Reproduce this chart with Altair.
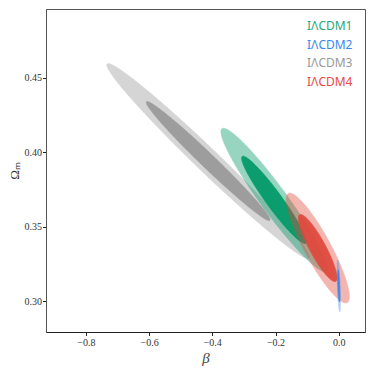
import altair as alt
import numpy as np
import pandas as pd

# ---- values ----
models = ["IΛCDM1", "IΛCDM2", "IΛCDM3", "IΛCDM4"]
colors = ["#009966", "#3a86f0", "#999999", "#e0483c"]
label_colors = ["#2ba57a", "#3a86f0", "#999999", "#e8493f"]
# Gaussian approximation of each posterior (beta, Omega_m)
mean_beta = [-0.205, 0.0, -0.413, -0.0665]
mean_om = [0.368, 0.3103, 0.394, 0.3357]
sigma_beta = [0.0674, 0.0021, 0.129, 0.0402]
sigma_om = [0.0193, 0.00698, 0.0263, 0.0148]
rho = [-0.953, -0.6, -0.9864, -0.885]
levels = ["2σ", "1σ"]
delta_chi2 = [6.18, 2.30]
draw_order = ["IΛCDM3", "IΛCDM1", "IΛCDM4", "IΛCDM2"]

x_ticks = [-0.8, -0.6, -0.4, -0.2, 0.0]
y_ticks = [0.30, 0.35, 0.40, 0.45]
x_domain = [-0.926, 0.083]
y_domain = [0.2794, 0.496]

# ---- contour outlines from the Gaussian parameters ----
rows = []
t = np.linspace(0, np.pi, 181)
for m in draw_order:
    i = models.index(m)
    mb, mo, sb, so, r = mean_beta[i], mean_om[i], sigma_beta[i], sigma_om[i], rho[i]
    for lev, k in zip(levels, delta_chi2):
        u = np.sqrt(k) * np.cos(t)
        s = np.sqrt(np.clip(k - u ** 2, 0, None))
        b = mb + sb * u
        mid = mo + r * so * u
        half = so * np.sqrt(1 - r ** 2) * s
        for bb, lo, hi in zip(b, mid - half, mid + half):
            rows.append({"model": m, "level": lev, "beta": bb, "lo": lo, "hi": hi})
df = pd.DataFrame(rows)

serif = "Liberation Serif"
label_expr = " : ".join(
    f"datum.value == '{m}' ? '{c}'" for m, c in zip(models[:-1], label_colors[:-1])
) + f" : '{label_colors[-1]}'"

layers = []
for m in draw_order:
    for lev in levels:
        sub = df[(df.model == m) & (df.level == lev)]
        layers.append(
            alt.Chart(sub).mark_area(strokeWidth=0.8, interpolate="linear").encode(
                x=alt.X("beta:Q", scale=alt.Scale(domain=x_domain, nice=False, zero=False),
                        axis=alt.Axis(values=x_ticks, format=".1f", title="β", grid=False,
                                      labelFont=serif, labelFontSize=10, labelColor="#333",
                                      titleFont=serif, titleFontSize=15, titleFontStyle="italic",
                                      titleFontWeight="normal", titleColor="#444", titlePadding=3,
                                      tickSize=3.5, tickColor="#222", labelPadding=2,
                                      domainColor="#222")),
                y=alt.Y("lo:Q", stack=None, scale=alt.Scale(domain=y_domain, nice=False, zero=False),
                        axis=alt.Axis(values=y_ticks, format=".2f", title="Ωₘ", grid=False,
                                      labelFont=serif, labelFontSize=10, labelColor="#333",
                                      titleFont=serif, titleFontSize=13, titleFontWeight="normal",
                                      titleColor="#333", titlePadding=3,
                                      tickSize=3.5, tickColor="#222", labelPadding=1,
                                      domainColor="#555")),
                y2="hi:Q",
                color=alt.Color("model:N", scale=alt.Scale(domain=models, range=colors),
                                legend=alt.Legend(orient="none", legendX=249, legendY=11, title=None,
                                                  symbolSize=0, symbolOpacity=0, symbolStrokeWidth=0,
                                                  labelOffset=0, labelFont="Noto Sans", labelFontSize=12,
                                                  labelColor=alt.ExprRef(label_expr),
                                                  rowPadding=6.7, padding=0)),
                stroke=alt.Stroke("model:N", scale=alt.Scale(domain=models, range=colors), legend=None),
                opacity=alt.Opacity("level:N", scale=alt.Scale(domain=levels, range=[0.4, 0.92]), legend=None),
            )
        )

chart = alt.layer(*layers).properties(
    width=319, height=323,
    padding={"left": 38, "top": 1, "right": 1, "bottom": 34},
    autosize="none",
).configure_view(stroke="#555", strokeWidth=1)

chart.save("out.html", embed_options={"renderer": "svg", "actions": False})
